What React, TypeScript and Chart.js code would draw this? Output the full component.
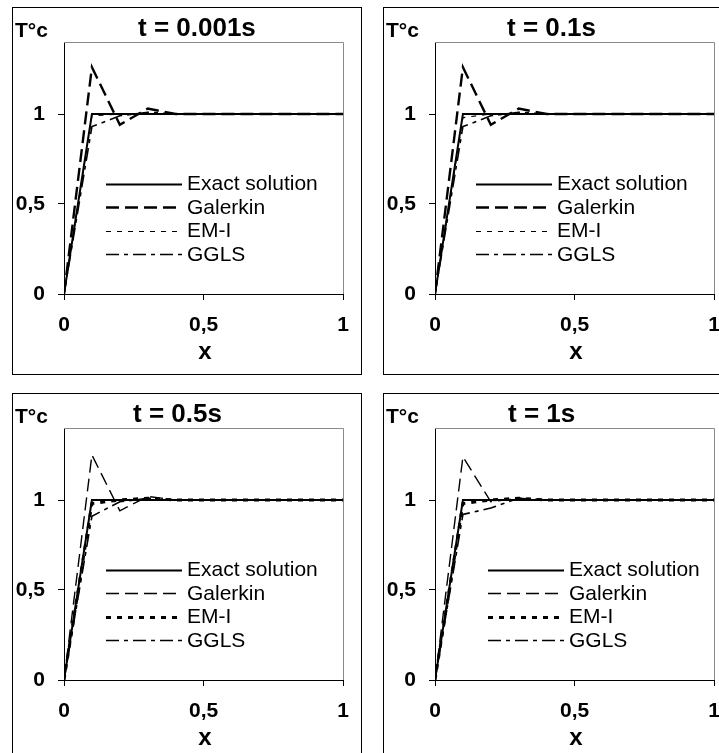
import React, { useEffect, useRef } from "react";
import { Chart, registerables } from "chart.js";

Chart.register(...registerables);

// ---------- data ----------
const X_NODES = [0, 0.1, 0.2, 0.3, 0.4, 0.5, 0.6, 0.7, 0.8, 0.9, 1.0];
const X_TICKS = [0, 0.5, 1];
const Y_TICKS = [0, 0.5, 1];
const Y_MIN = 0;
const Y_MAX = 1.4;
const SERIES_NAMES = ["Exact solution", "Galerkin", "EM-I", "GGLS"];
const TIME_TITLES = ["t = 0.001s", "t = 0.1s", "t = 0.5s", "t = 1s"];
const Y_LABEL = "T°c";
const X_LABEL = "x";

// t = 0.001 s
const EXACT_T1 = [0, 1, 1, 1, 1, 1, 1, 1, 1, 1, 1];
const GALERKIN_T1 = [0, 1.26, 0.94, 1.03, 1.0, 1, 1, 1, 1, 1, 1];
const EMI_T1 = [0, 0.99, 1.0, 1.0, 1.0, 1, 1, 1, 1, 1, 1];
const GGLS_T1 = [0, 0.93, 0.99, 1.01, 1.0, 1, 1, 1, 1, 1, 1];

// t = 0.1 s
const EXACT_T2 = [0, 1, 1, 1, 1, 1, 1, 1, 1, 1, 1];
const GALERKIN_T2 = [0, 1.26, 0.94, 1.03, 1.0, 1, 1, 1, 1, 1, 1];
const EMI_T2 = [0, 0.98, 1.0, 1.0, 1.0, 1, 1, 1, 1, 1, 1];
const GGLS_T2 = [0, 0.93, 0.99, 1.01, 1.0, 1, 1, 1, 1, 1, 1];

// t = 0.5 s
const EXACT_T3 = [0, 1, 1, 1, 1, 1, 1, 1, 1, 1, 1];
const GALERKIN_T3 = [0, 1.25, 0.94, 1.02, 1.0, 1, 1, 1, 1, 1, 1];
const EMI_T3 = [0, 0.98, 1.0, 1.01, 1.0, 1, 1, 1, 1, 1, 1];
const GGLS_T3 = [0, 0.91, 0.99, 1.01, 1.0, 1, 1, 1, 1, 1, 1];

// t = 1 s
const EXACT_T4 = [0, 1, 1, 1, 1, 1, 1, 1, 1, 1, 1];
const GALERKIN_T4 = [0, 1.24, 0.99, 1.01, 1.0, 1, 1, 1, 1, 1, 1];
const EMI_T4 = [0, 0.98, 1.0, 1.01, 1.0, 1, 1, 1, 1, 1, 1];
const GGLS_T4 = [0, 0.92, 0.955, 1.01, 1.0, 1, 1, 1, 1, 1, 1];

const PANEL_SERIES = [
  [EXACT_T1, GALERKIN_T1, EMI_T1, GGLS_T1],
  [EXACT_T2, GALERKIN_T2, EMI_T2, GGLS_T2],
  [EXACT_T3, GALERKIN_T3, EMI_T3, GGLS_T3],
  [EXACT_T4, GALERKIN_T4, EMI_T4, GGLS_T4],
];

// ---------- layout / style ----------
const FONT = '"Liberation Sans", Arial, Helvetica, sans-serif';
const BOX_W = 350;
const BOX_H = 368;
const PANELS = [
  { left: 12, top: 7, titleX: 74, legendX: 42, thick: "galerkin" },
  { left: 383, top: 7, titleX: 72, legendX: 41, thick: "galerkin" },
  { left: 12, top: 393, titleX: 69, legendX: 42, thick: "emi" },
  { left: 383, top: 393, titleX: 73, legendX: 53, thick: "emi" },
];

function fmt(v: number) {
  return String(v).replace(".", ",");
}

const overlayPlugin = {
  id: "overlay",
  beforeDatasetsDraw(chart: any) {
    const { ctx, chartArea: a } = chart;
    ctx.save();
    ctx.strokeStyle = "#8a8a8a";
    ctx.lineWidth = 1;
    ctx.setLineDash([]);
    ctx.beginPath();
    ctx.moveTo(a.left, Math.round(a.top) + 0.5);
    ctx.lineTo(Math.round(a.right) + 0.5, Math.round(a.top) + 0.5);
    ctx.lineTo(Math.round(a.right) + 0.5, a.bottom);
    ctx.stroke();
    ctx.restore();
  },
  afterDraw(chart: any, _args: any, opts: any) {
    const { ctx, chartArea: a } = chart;
    ctx.save();
    // legend
    const lx = a.left + opts.legendX;
    const len = 76;
    chart.data.datasets.forEach((ds: any, i: number) => {
      const y = a.top + 141.5 + i * 23.5;
      ctx.strokeStyle = "#000";
      ctx.lineWidth = ds.borderWidth;
      ctx.setLineDash(ds.borderDash || []);
      ctx.beginPath();
      ctx.moveTo(lx, Math.round(y) + 0.5);
      ctx.lineTo(lx + len, Math.round(y) + 0.5);
      ctx.stroke();
      ctx.setLineDash([]);
      ctx.fillStyle = "#000";
      ctx.font = `21px ${FONT}`;
      ctx.textAlign = "left";
      ctx.textBaseline = "middle";
      ctx.fillText(ds.label, lx + len + 5, y + 1);
    });
    // title
    ctx.fillStyle = "#000";
    ctx.textBaseline = "alphabetic";
    ctx.textAlign = "left";
    ctx.font = `bold 26px ${FONT}`;
    ctx.fillText(opts.title, a.left + opts.titleX, a.top - 6);
    // y label
    ctx.font = `bold 21px ${FONT}`;
    ctx.fillText(Y_LABEL, a.left - 49, a.top - 5);
    // x label
    ctx.textAlign = "center";
    ctx.font = `bold 24px ${FONT}`;
    ctx.fillText(X_LABEL, a.left + 141, a.bottom + 65);
    ctx.restore();
  },
};

function Panel({ idx }: { idx: number }) {
  const ref = useRef<HTMLCanvasElement | null>(null);
  const p = PANELS[idx];
  useEffect(() => {
    if (!ref.current) return;
    const series = PANEL_SERIES[idx];
    const galW = p.thick === "galerkin" ? 2.4 : 1.4;
    const emiW = p.thick === "emi" ? 3 : 1.2;
    const styles = [
      { borderWidth: 2, borderDash: [] as number[] },
      { borderWidth: galW, borderDash: [13, 6] },
      { borderWidth: emiW, borderDash: [5, 6] },
      { borderWidth: 1.6, borderDash: [13, 5, 4, 5] },
    ];
    const datasets = series.map((arr, i) => ({
      label: SERIES_NAMES[i],
      data: X_NODES.map((x, j) => ({ x, y: arr[j] })),
      borderColor: "#000",
      backgroundColor: "#000",
      borderWidth: styles[i].borderWidth,
      borderDash: styles[i].borderDash,
      pointRadius: 0,
      tension: 0,
      fill: false,
    }));
    const chart = new Chart(ref.current, {
      type: "line",
      data: { datasets },
      plugins: [overlayPlugin],
      options: {
        animation: false,
        responsive: false,
        maintainAspectRatio: false,
        devicePixelRatio: 1,
        layout: { padding: { left: 0, top: 35, right: 18, bottom: 0 } },
        plugins: {
          legend: { display: false },
          tooltip: { enabled: false },
          title: { display: false },
          overlay: { title: TIME_TITLES[idx], titleX: p.titleX, legendX: p.legendX },
        } as any,
        scales: {
          x: {
            type: "linear",
            min: 0,
            max: 1,
            afterBuildTicks: (s: any) => {
              s.ticks = X_TICKS.map((v) => ({ value: v }));
            },
            afterFit: (s: any) => {
              s.height = 81;
            },
            ticks: {
              color: "#000",
              font: { family: FONT, size: 21, weight: "bold" },
              padding: 13,
              maxRotation: 0,
              callback: (v: any) => fmt(Number(v)),
            },
            grid: {
              display: true,
              drawOnChartArea: false,
              drawTicks: true,
              tickLength: 6,
              color: "#000",
            },
            border: { display: true, color: "#000", width: 1 },
          },
          y: {
            type: "linear",
            min: Y_MIN,
            max: Y_MAX,
            afterBuildTicks: (s: any) => {
              s.ticks = Y_TICKS.map((v) => ({ value: v }));
            },
            afterFit: (s: any) => {
              s.width = 52;
            },
            ticks: {
              color: "#000",
              font: { family: FONT, size: 21, weight: "bold" },
              padding: 13,
              callback: (v: any) => fmt(Number(v)),
            },
            grid: {
              display: true,
              drawOnChartArea: false,
              drawTicks: true,
              tickLength: 6,
              color: "#000",
            },
            border: { display: true, color: "#000", width: 1 },
          },
        },
      } as any,
    });
    return () => chart.destroy();
  }, [idx]);
  return (
    <div
      style={{
        position: "absolute",
        left: p.left,
        top: p.top,
        width: BOX_W,
        height: BOX_H,
        boxSizing: "border-box",
        border: "1px solid #000",
        background: "#fff",
      }}
    >
      <canvas
        ref={ref}
        width={BOX_W}
        height={BOX_H}
        style={{ position: "absolute", left: -1, top: -1, width: BOX_W, height: BOX_H }}
      />
    </div>
  );
}

export default function App() {
  return (
    <div
      style={{
        position: "absolute",
        left: 0,
        top: 0,
        width: 719,
        height: 753,
        overflow: "hidden",
        background: "#fff",
      }}
    >
      {[0, 1, 2, 3].map((i) => (
        <Panel key={i} idx={i} />
      ))}
    </div>
  );
}
